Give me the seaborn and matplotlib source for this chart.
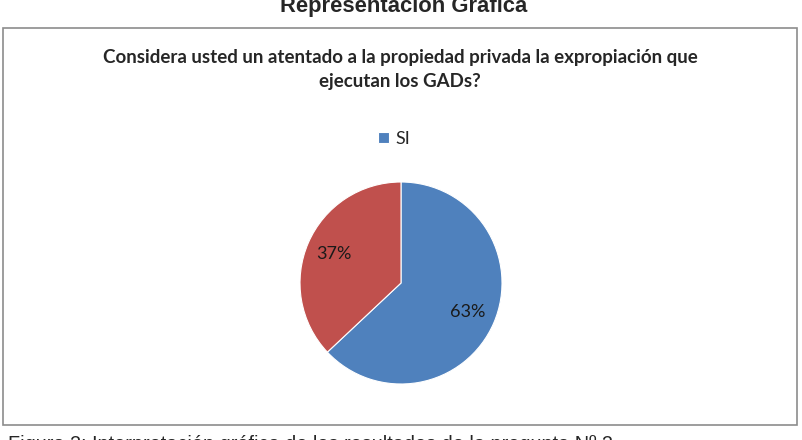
import matplotlib.pyplot as plt
import seaborn as sns
from matplotlib.patches import Rectangle

# Data
categories = ["SI", "NO"]
values = [63, 37]
colors = ["#4F81BD", "#C0504D"]

sns.set_theme(style="white")
plt.rcParams['font.family'] = ['Lato', 'DejaVu Sans']

W, H = 803, 440
fig = plt.figure(figsize=(W / 100, H / 100), dpi=100)

# chart frame
fig.patches.append(Rectangle((3 / W, (H - 425) / H), 794 / W, 397 / H,
                             transform=fig.transFigure, fill=False,
                             edgecolor="#8c8c8c", linewidth=1.2))

# page heading (cut off at top) and caption (cut off at bottom), as in the source page
fig.text(404 / W, (H - 12) / H, "Representación Gráfica", ha="center", va="baseline",
         fontsize=15.8, fontweight="bold", family=["Liberation Sans"])
fig.text(8 / W, (H - 450) / H, "Figura 2: Interpretación gráfica de los resultados de la pregunta Nº 2",
         ha="left", va="baseline", fontsize=14.3, family=["Liberation Sans"])

# chart title
fig.text(400 / W, (H - 58) / H, "Considera usted un atentado a la propiedad privada la expropiación que",
         ha="center", va="center", fontsize=13.5, fontweight="bold")
fig.text(400 / W, (H - 81) / H, "ejecutan los GADs?",
         ha="center", va="center", fontsize=13.5, fontweight="bold")

# pie
cx, cy, r = 401, 283, 101
ax = fig.add_axes([(cx - r) / W, (H - cy - r) / H, 2 * r / W, 2 * r / H])
wedges, texts, autotexts = ax.pie(values, colors=colors, startangle=90, counterclock=False,
                                  autopct="%d%%", pctdistance=0.72,
                                  wedgeprops=dict(linewidth=0.8, edgecolor="white"),
                                  textprops=dict(fontsize=13, color="#1a1a1a"))
ax.set_xlim(-1, 1)
ax.set_ylim(-1, 1)
ax.set_aspect("equal")
ax.axis("off")

# legend shows only the first category
fig.legend([wedges[0]], [categories[0]], loc="center", bbox_to_anchor=(394 / W, (H - 139) / H),
           frameon=False, fontsize=13, handlelength=0.6, handleheight=0.6, handletextpad=0.35)

fig.savefig("out.png", dpi=100)
